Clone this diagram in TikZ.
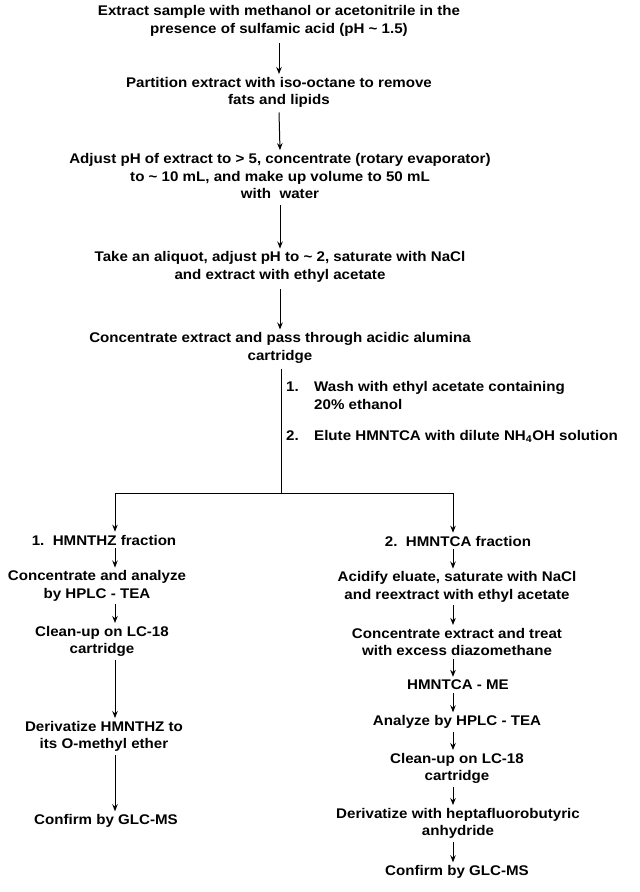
\documentclass[tikz,border=0pt]{standalone}
\usepackage{fontspec}
\setmainfont{Liberation Sans}[FakeStretch = 1.08]
\usetikzlibrary{positioning}
\usetikzlibrary{arrows.meta}

\begin{document}
\begin{tikzpicture}[x = 1pt, y = -1pt,
		stage/.style = {font = \fontsize{14}{17.5}\selectfont\bfseries, align = center, inner sep = 3pt},
		flow/.style = {black, line width = 1pt, -{Stealth[length = 7pt, width = 5.5pt]}},
		rule/.style = {black, line width = 1pt}]
					\useasboundingbox (0, 0) rectangle (640, 892);
					\node [stage] (extract) at (279, 21) {Extract sample with methanol or acetonitrile in the\\presence of sulfamic acid (pH \textasciitilde{} 1.5)};
					\node [stage] (partition) at (279, 92.5) {Partition extract with iso-octane to remove\\fats and lipids};
					\node [stage] (adjust) at (280, 176) {Adjust pH of extract to > 5, concentrate (rotary evaporator)\\to \textasciitilde{} 10 mL, and make up volume to 50 mL\\with\ \ water};
					\node [stage] (aliquot) at (280, 267) {Take an aliquot, adjust pH to \textasciitilde{} 2, saturate with NaCl\\and extract with ethyl acetate};
					\node [stage] (alumina) at (280, 348) {Concentrate extract and pass through acidic alumina\\cartridge};
					\node [stage, anchor = west] (wash) at (283, 397) {\begin{tabular}{@{}p{28pt}@{}l@{}}1. & Wash with ethyl acetate containing\\ & 20\% ethanol\end{tabular}};
					\node [stage, anchor = west] (elute) at (283, 437) {\begin{tabular}{@{}p{28pt}@{}l@{}}2. & Elute HMNTCA with dilute NH\textsubscript{4}OH solution\end{tabular}};
					\coordinate (split) at (281, 493);
					\coordinate (lcol) at (115, 493);
					\coordinate (rcol) at (453, 493);
					\node [stage] (hmnthz) at (104, 540) {1.\ \ HMNTHZ fraction};
					\node [stage] (lanalyze) at (97, 586) {Concentrate and analyze\\by HPLC - TEA};
					\node [stage] (lclean) at (102, 641.5) {Clean-up on LC-18\\cartridge};
					\node [stage] (lderiv) at (104, 736.5) {Derivatize HMNTHZ to\\its O-methyl ether};
					\node [stage] (lconfirm) at (106, 821) {Confirm by GLC-MS};
					\node [stage] (hmntca) at (458, 541) {2.\ \ HMNTCA fraction};
					\node [stage] (acidify) at (457, 587) {Acidify eluate, saturate with NaCl\\and reextract with ethyl acetate};
					\node [stage] (diazo) at (457, 642) {Concentrate extract and treat\\with excess diazomethane};
					\node [stage] (methyl) at (458, 685) {HMNTCA - ME};
					\node [stage] (ranalyze) at (457, 722) {Analyze by HPLC - TEA};
					\node [stage] (rclean) at (457, 768.5) {Clean-up on LC-18\\cartridge};
					\node [stage] (rderiv) at (458, 823.5) {Derivatize with heptafluorobutyric\\anhydride};
					\node [stage] (rconfirm) at (457, 872) {Confirm by GLC-MS};
					\draw [flow] (extract.south -| partition) ++(0, 4) -- (partition.north);
					\draw [flow] (partition) ++(0, 20) -- (adjust.north);
					\draw [flow] (adjust) ++(0, 29) -- (aliquot.north);
					\draw [flow] (aliquot) ++(0, 22) -- (alumina.north);
					\draw [rule] (alumina.south -| split) ++(0, 2) -- (split);
					\draw [rule] (lcol) -- (rcol);
					\draw [flow] (lcol) -- (hmnthz.north -| lcol);
					\draw [flow] (rcol) -- (hmntca.north -| rcol);
					\draw [flow] (hmnthz.south -| lcol) -- (lanalyze.north -| lcol);
					\draw [flow] (lanalyze.south -| lcol) -- (lclean.north -| lcol);
					\draw [flow] (lclean.south -| lcol) -- (lderiv.north -| lcol);
					\draw [flow] (lderiv.south -| lcol) -- (lconfirm.north -| lcol);
					\draw [flow] (hmntca.south -| rcol) -- (acidify.north -| rcol);
					\draw [flow] (acidify.south -| rcol) -- (diazo.north -| rcol);
					\draw [flow] (diazo.south -| rcol) -- (methyl.north -| rcol);
					\draw [flow] (methyl.south -| rcol) -- (ranalyze.north -| rcol);
					\draw [flow] (ranalyze.south -| rcol) -- (rclean.north -| rcol);
					\draw [flow] (rclean.south -| rcol) -- (rderiv.north -| rcol);
					\draw [flow] (rderiv.south -| rcol) -- (rconfirm.north -| rcol);
				\end{tikzpicture}
\end{document}
